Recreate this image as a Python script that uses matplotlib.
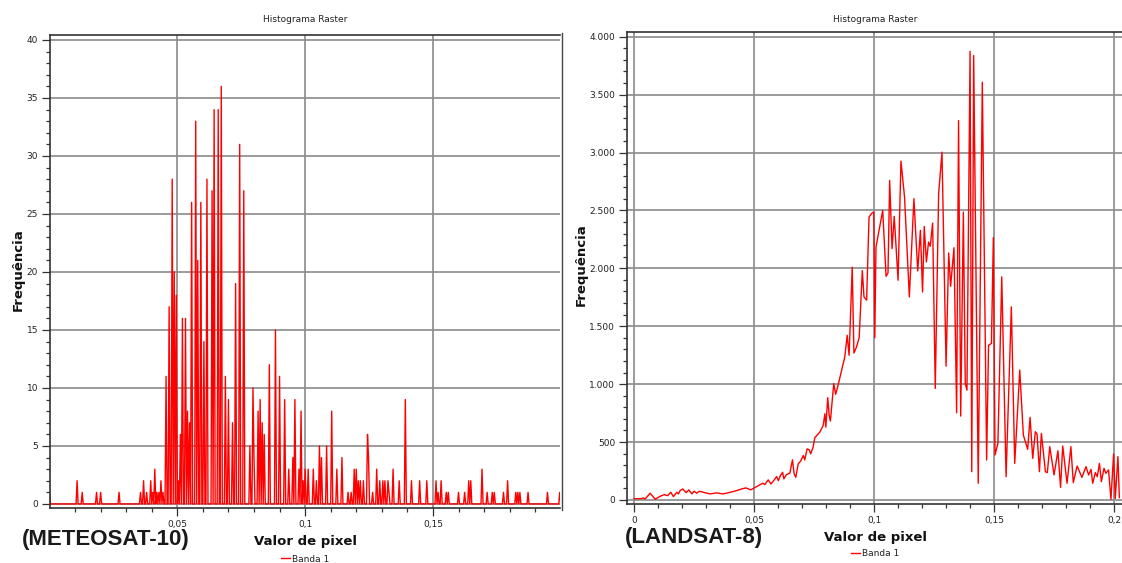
import numpy as np
import matplotlib
matplotlib.use("Agg")
import matplotlib.pyplot as plt
from matplotlib.ticker import MultipleLocator, FuncFormatter
from matplotlib.lines import Line2D

# METEOSAT-10 histogram: spike positions (pixel value) and counts, zero elsewhere
met_pos = [0.0002, 0.0110, 0.0127, 0.0185, 0.0198, 0.0270, 0.0355, 0.0369, 0.0380, 0.0396,
           0.0404, 0.0411, 0.0420, 0.0428, 0.0437, 0.0445, 0.0458, 0.0469, 0.0481, 0.0489,
           0.0497, 0.0503, 0.0511, 0.0521, 0.0533, 0.0539, 0.0547, 0.0557, 0.0572, 0.0579,
           0.0594, 0.0605, 0.0618, 0.0635, 0.0645, 0.0660, 0.0673, 0.0687, 0.0701, 0.0715,
           0.0727, 0.0745, 0.0762, 0.0783, 0.0796, 0.0801, 0.0818, 0.0826, 0.0833, 0.0842,
           0.0861, 0.0884, 0.0901, 0.0922, 0.0938, 0.0950, 0.0962, 0.0975, 0.0983, 0.0990,
           0.1002, 0.1013, 0.1032, 0.1045, 0.1054, 0.1062, 0.1084, 0.1105, 0.1123, 0.1146,
           0.1168, 0.1181, 0.1191, 0.1199, 0.1207, 0.1216, 0.1228, 0.1244, 0.1250, 0.1266,
           0.1278, 0.1293, 0.1303, 0.1312, 0.1323, 0.1330, 0.1343, 0.1367, 0.1392, 0.1418,
           0.1449, 0.1477, 0.1513, 0.1521, 0.1532, 0.1553, 0.1561, 0.1598, 0.1623, 0.1641,
           0.1650, 0.1694, 0.1710, 0.1731, 0.1739, 0.1778, 0.1791, 0.1825, 0.1833, 0.1842,
           0.1870, 0.1947, 0.1996]
met_cnt = [1, 2, 1, 1, 1, 1, 1, 2, 1, 2,
           1, 3, 1, 1, 2, 1, 11, 17, 28, 20,
           18, 2, 6, 16, 16, 8, 7, 26, 33, 21,
           26, 14, 28, 27, 34, 34, 36, 11, 9, 7,
           19, 31, 27, 5, 10, 4, 8, 9, 7, 6,
           12, 15, 11, 9, 3, 4, 9, 3, 8, 2,
           3, 3, 3, 2, 5, 4, 5, 8, 3, 4,
           1, 1, 3, 3, 2, 2, 2, 6, 4, 1,
           3, 2, 2, 2, 2, 1, 3, 2, 9, 2,
           2, 2, 2, 1, 2, 1, 1, 1, 1, 2,
           2, 3, 1, 1, 1, 1, 2, 1, 1, 1,
           1, 1, 1]

# LANDSAT-8 histogram
lan_x = [0.0000, 0.0030, 0.0036, 0.0046, 0.0066, 0.0087, 0.0108, 0.0125, 0.0139, 0.0152,
         0.0163, 0.0177, 0.0184, 0.0191, 0.0202, 0.0216, 0.0227, 0.0240, 0.0249, 0.0260,
         0.0271, 0.0288, 0.0316, 0.0343, 0.0371, 0.0399, 0.0427, 0.0447, 0.0465, 0.0485,
         0.0500, 0.0517, 0.0535, 0.0544, 0.0558, 0.0569, 0.0579, 0.0593, 0.0600, 0.0609,
         0.0618, 0.0623, 0.0634, 0.0648, 0.0659, 0.0666, 0.0673, 0.0683, 0.0693, 0.0704,
         0.0710, 0.0720, 0.0729, 0.0735, 0.0745, 0.0752, 0.0773, 0.0787, 0.0794, 0.0798,
         0.0806, 0.0812, 0.0817, 0.0831, 0.0839, 0.0849, 0.0863, 0.0877, 0.0887, 0.0895,
         0.0908, 0.0915, 0.0926, 0.0937, 0.0950, 0.0957, 0.0968, 0.0978, 0.0990, 0.0998,
         0.1002, 0.1007, 0.1035, 0.1049, 0.1057, 0.1064, 0.1074, 0.1083, 0.1099, 0.1111,
         0.1126, 0.1146, 0.1165, 0.1181, 0.1192, 0.1201, 0.1208, 0.1217, 0.1226, 0.1233,
         0.1243, 0.1254, 0.1268, 0.1282, 0.1299, 0.1310, 0.1318, 0.1332, 0.1343, 0.1351,
         0.1360, 0.1371, 0.1379, 0.1386, 0.1399, 0.1406, 0.1414, 0.1433, 0.1450, 0.1468,
         0.1476, 0.1488, 0.1496, 0.1503, 0.1515, 0.1531, 0.1549, 0.1571, 0.1585, 0.1606,
         0.1621, 0.1639, 0.1649, 0.1660, 0.1671, 0.1678, 0.1688, 0.1696, 0.1713, 0.1721,
         0.1731, 0.1749, 0.1765, 0.1776, 0.1785, 0.1803, 0.1819, 0.1829, 0.1845, 0.1865,
         0.1882, 0.1893, 0.1903, 0.1910, 0.1921, 0.1929, 0.1938, 0.1946, 0.1957, 0.1965,
         0.1976, 0.1986, 0.1997, 0.2004, 0.2015, 0.2021]
lan_y = [10, 12, 17, 10, 58, 6, 32, 46, 37, 66,
         29, 66, 52, 81, 95, 63, 87, 52, 75, 58,
         75, 66, 52, 61, 52, 66, 81, 95, 104, 87,
         104, 124, 144, 133, 173, 138, 161, 202, 167, 211,
         239, 182, 219, 231, 346, 225, 196, 312, 335, 384,
         346, 441, 433, 398, 456, 537, 586, 643, 744, 629,
         883, 729, 681, 1004, 912, 990, 1114, 1235, 1422, 1249,
         2010, 1269, 1321, 1402, 1980, 1754, 1725, 2443, 2477, 2486,
         1400, 2184, 2500, 1931, 1960, 2759, 2170, 2449, 1897, 2926,
         2615, 1753, 2601, 1977, 2328, 1796, 2362, 2055, 2227, 2190,
         2391, 963, 2644, 3003, 1155, 2133, 1845, 2178, 753, 3276,
         724, 2486, 1006, 948, 3874, 244, 3837, 144, 3607, 345,
         1336, 1351, 2265, 388, 489, 1926, 201, 1667, 316, 1121,
         560, 437, 713, 359, 589, 569, 244, 575, 244, 236,
         460, 216, 425, 109, 466, 144, 460, 149, 293, 195,
         287, 216, 264, 144, 236, 201, 316, 158, 273, 230,
         259, 6, 397, 14, 374, 20]

panel_names = ["(METEOSAT-10)", "(LANDSAT-8)"]

# build METEOSAT bins
bw = 0.0004
met_x = np.arange(0, 501) * bw
met_y = np.zeros(len(met_x))
for p, c in zip(met_pos, met_cnt):
    met_y[int(round(p / bw))] = c

W, H = 1122, 563
fig = plt.figure(figsize=(W / 100, H / 100), dpi=100)


def box(x0, y0, x1, y1):
    return [x0 / W, 1 - y1 / H, (x1 - x0) / W, (y1 - y0) / H]


ax1 = fig.add_axes(box(50, 35, 560, 508))
ax2 = fig.add_axes(box(627, 31.5, 1122, 504))

comma = FuncFormatter(lambda v, p: ("%g" % round(v, 4)).replace(".", ","))
thousands = FuncFormatter(lambda v, p: "{:,.0f}".format(v).replace(",", "."))

for ax in (ax1, ax2):
    ax.set_facecolor("white")
    ax.grid(True, which="major", color="#8a8a8a", linewidth=1.2)
    ax.set_axisbelow(True)
    ax.xaxis.set_major_locator(MultipleLocator(0.05))
    ax.xaxis.set_minor_locator(MultipleLocator(0.01))
    ax.xaxis.set_major_formatter(comma)
    ax.tick_params(which="major", length=5.5, width=0.9, color="#333333",
                   labelsize=6.5, labelcolor="#222222", pad=3)
    ax.tick_params(which="minor", length=3.2, width=0.9, color="#333333")
    for s in ("left", "bottom", "top"):
        ax.spines[s].set_color("#333333")
        ax.spines[s].set_linewidth(1.2)
    ax.spines["right"].set_visible(False)

l1, = ax1.plot(met_x, met_y, color="#ff0000", linewidth=1.0)
ax1.set_xlim(0.0002, 0.1997)
ax1.set_ylim(-0.35, 40.43)
ax1.yaxis.set_major_locator(MultipleLocator(5))
ax1.yaxis.set_minor_locator(MultipleLocator(1))

l2, = ax2.plot(lan_x, lan_y, color="#ff0000", linewidth=1.0)
ax2.set_xlim(-0.00304, 0.2032)
ax2.set_ylim(-35, 4045)
ax2.yaxis.set_major_locator(MultipleLocator(500))
ax2.yaxis.set_minor_locator(MultipleLocator(100))
ax2.yaxis.set_major_formatter(thousands)

# texts
for cx, ty, yx, yy, xy, ly, line, name, nx, ny in [
        (305, 20, 18, 270, 541, 559, l1, panel_names[0], 22, 540),
        (875, 20, 581, 265, 537, 554, l2, panel_names[1], 625, 538)]:
    fig.text(cx / W, 1 - ty / H, "Histograma Raster", ha="center", va="center",
             fontsize=6.5, color="#222222")
    fig.text(yx / W, 1 - yy / H, "Frequência", rotation=90, ha="center", va="center",
             fontsize=9.5, fontweight="bold", color="#111111")
    fig.text(cx / W, 1 - xy / H, "Valor de pixel", ha="center", va="center",
             fontsize=9.5, fontweight="bold", color="#111111")
    fig.legend([line], ["Banda 1"], loc="center", bbox_to_anchor=(cx / W, 1 - ly / H),
               frameon=False, fontsize=6.5, handlelength=1.0, handletextpad=0.3,
               borderpad=0, labelcolor="#222222")
    fig.text(nx / W, 1 - ny / H, name, ha="left", va="center", fontsize=16,
             fontweight="bold", family="Liberation Sans", color="#1a1a1a")

# separator between the two screenshots
fig.add_artist(Line2D([561.5 / W, 561.5 / W], [1 - 510 / H, 1 - 33 / H],
                      transform=fig.transFigure, color="#444444", linewidth=1.0))

fig.savefig("out.png", dpi=100)
